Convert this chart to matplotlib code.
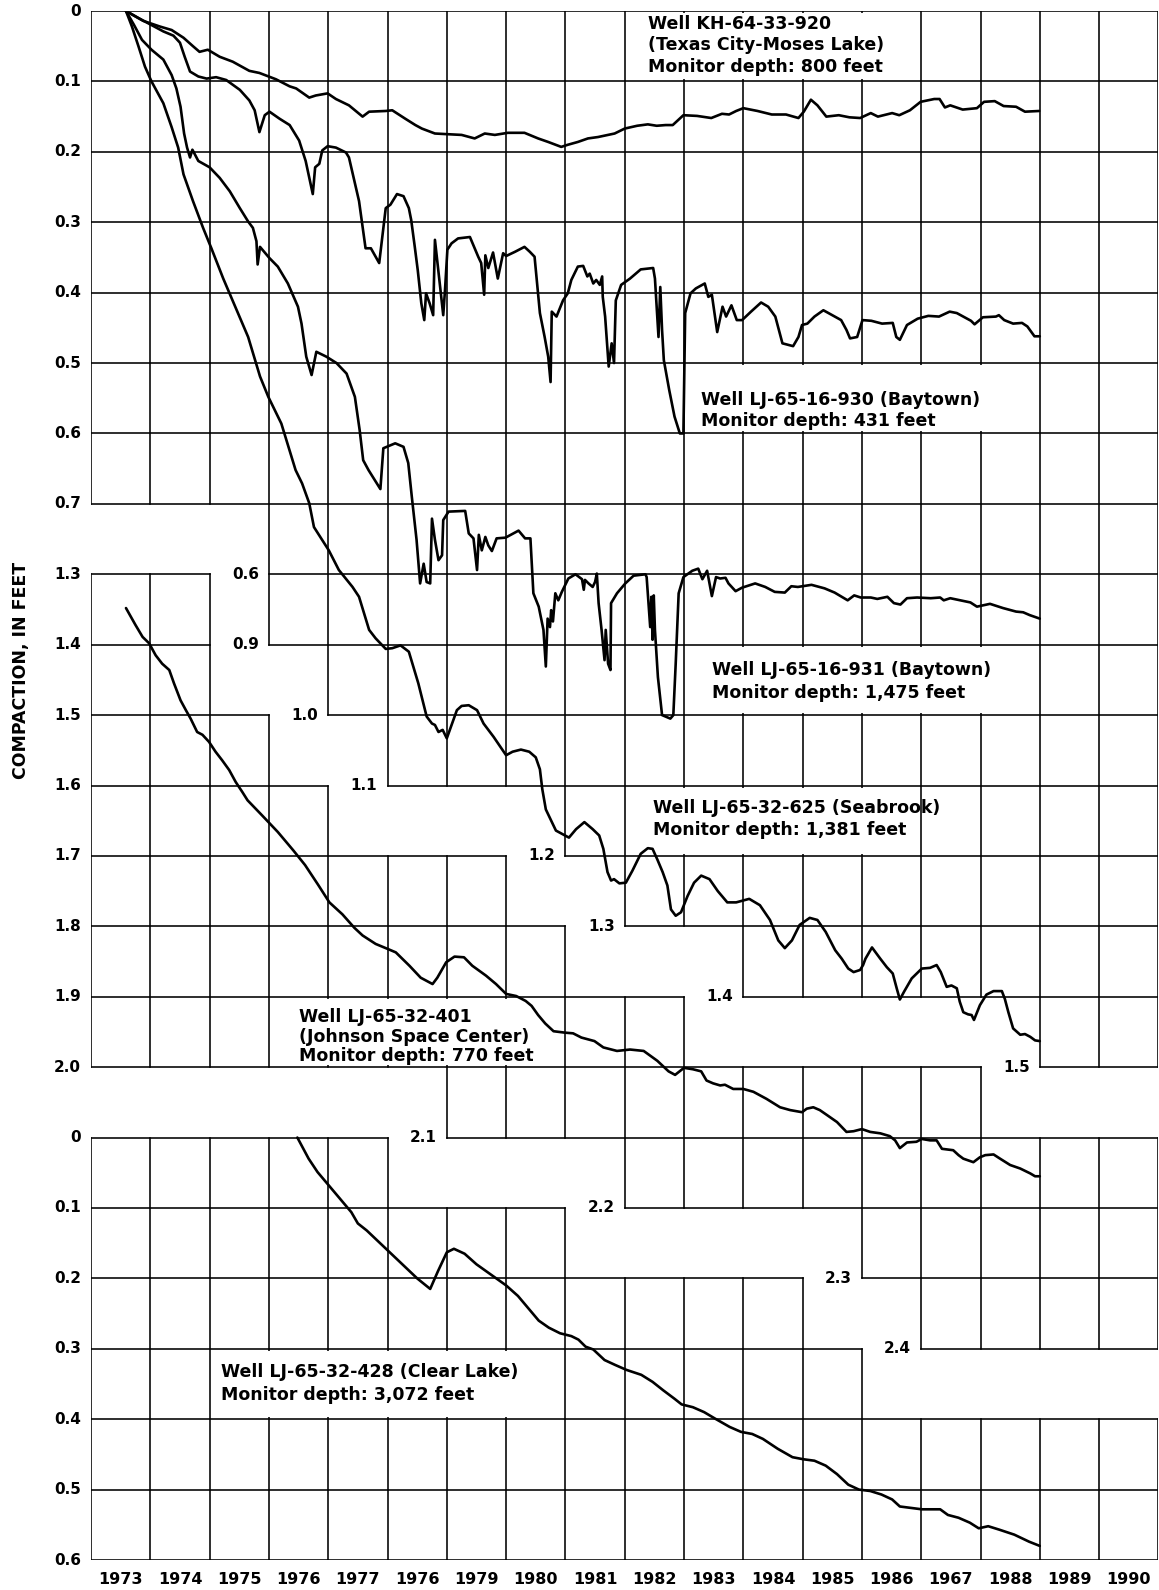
import matplotlib
matplotlib.use("Agg")
import matplotlib.pyplot as plt
from matplotlib.patches import Rectangle

# ---------------- data (years, compaction in feet) ----------------
texas_city = [(1973.59, 0.0), (1973.88, 0.014), (1974.16, 0.022), (1974.36, 0.027), (1974.56, 0.038),
    (1974.72, 0.050), (1974.83, 0.058), (1974.97, 0.055), (1975.17, 0.065), (1975.39, 0.072),
    (1975.67, 0.085), (1975.84, 0.088), (1976.12, 0.097), (1976.35, 0.107), (1976.46, 0.110),
    (1976.68, 0.123), (1976.79, 0.120), (1976.99, 0.117), (1977.13, 0.125), (1977.35, 0.134),
    (1977.58, 0.150), (1977.69, 0.143), (1977.97, 0.142), (1978.08, 0.141), (1978.30, 0.153),
    (1978.47, 0.162), (1978.58, 0.167), (1978.80, 0.174), (1979.02, 0.175), (1979.25, 0.176),
    (1979.47, 0.181), (1979.64, 0.174), (1979.81, 0.176), (1980.03, 0.173), (1980.31, 0.173),
    (1980.54, 0.181), (1980.71, 0.186), (1980.93, 0.193), (1981.04, 0.190), (1981.21, 0.186),
    (1981.38, 0.181), (1981.55, 0.179), (1981.83, 0.174), (1982.00, 0.167), (1982.21, 0.163),
    (1982.39, 0.161), (1982.54, 0.163), (1982.69, 0.162), (1982.81, 0.162), (1982.90, 0.155),
    (1982.99, 0.148), (1983.22, 0.149), (1983.46, 0.152), (1983.64, 0.146), (1983.76, 0.147),
    (1983.88, 0.142), (1984.00, 0.138), (1984.24, 0.142), (1984.48, 0.147), (1984.72, 0.147),
    (1984.93, 0.152), (1985.02, 0.143), (1985.14, 0.126), (1985.25, 0.134), (1985.40, 0.150),
    (1985.61, 0.148), (1985.79, 0.151), (1985.97, 0.152), (1986.15, 0.145), (1986.27, 0.150),
    (1986.51, 0.145), (1986.63, 0.148), (1986.81, 0.141), (1986.99, 0.129), (1987.22, 0.125),
    (1987.31, 0.125), (1987.40, 0.137), (1987.49, 0.134), (1987.70, 0.140), (1987.94, 0.138),
    (1988.06, 0.129), (1988.24, 0.128), (1988.39, 0.135), (1988.60, 0.136), (1988.75, 0.143),
    (1988.99, 0.142)]

baytown_930 = [(1973.59, 0.0), (1973.80, 0.010), (1974.00, 0.019), (1974.22, 0.029), (1974.39, 0.035),
    (1974.50, 0.045), (1974.58, 0.065), (1974.67, 0.086), (1974.81, 0.093), (1974.95, 0.096),
    (1975.11, 0.094), (1975.28, 0.098), (1975.51, 0.112), (1975.67, 0.127), (1975.76, 0.141),
    (1975.84, 0.172), (1975.93, 0.148), (1976.01, 0.143), (1976.18, 0.153), (1976.35, 0.162),
    (1976.51, 0.184), (1976.62, 0.213), (1976.74, 0.260), (1976.78, 0.222), (1976.85, 0.217),
    (1976.90, 0.198), (1976.99, 0.192), (1977.13, 0.194), (1977.30, 0.201), (1977.35, 0.208),
    (1977.52, 0.270), (1977.63, 0.337), (1977.72, 0.337), (1977.86, 0.358), (1977.97, 0.280),
    (1978.05, 0.275), (1978.16, 0.260), (1978.27, 0.263), (1978.36, 0.280), (1978.40, 0.297),
    (1978.46, 0.335), (1978.51, 0.368), (1978.57, 0.415), (1978.62, 0.439), (1978.65, 0.401),
    (1978.71, 0.415), (1978.77, 0.432), (1978.80, 0.325), (1978.85, 0.363), (1978.94, 0.432),
    (1978.97, 0.396), (1979.01, 0.339), (1979.08, 0.330), (1979.19, 0.323), (1979.39, 0.321),
    (1979.41, 0.325), (1979.53, 0.349), (1979.58, 0.358), (1979.63, 0.403), (1979.65, 0.347),
    (1979.70, 0.365), (1979.78, 0.343), (1979.86, 0.380), (1979.95, 0.344), (1980.00, 0.348),
    (1980.15, 0.342), (1980.31, 0.335), (1980.40, 0.342), (1980.48, 0.349), (1980.57, 0.429),
    (1980.65, 0.463), (1980.71, 0.491), (1980.75, 0.527), (1980.77, 0.427), (1980.85, 0.434),
    (1980.96, 0.411), (1981.04, 0.401), (1981.10, 0.382), (1981.21, 0.363), (1981.30, 0.362),
    (1981.37, 0.377), (1981.41, 0.373), (1981.47, 0.387), (1981.52, 0.382), (1981.58, 0.389),
    (1981.62, 0.377), (1981.63, 0.406), (1981.67, 0.434), (1981.73, 0.505), (1981.78, 0.472),
    (1981.82, 0.500), (1981.85, 0.411), (1981.94, 0.389), (1982.09, 0.380), (1982.27, 0.367),
    (1982.48, 0.365), (1982.51, 0.380), (1982.57, 0.463), (1982.60, 0.392), (1982.63, 0.453),
    (1982.66, 0.496), (1982.75, 0.538), (1982.84, 0.576), (1982.93, 0.600), (1982.99, 0.600),
    (1983.02, 0.429), (1983.11, 0.401), (1983.20, 0.394), (1983.35, 0.387), (1983.41, 0.406),
    (1983.47, 0.403), (1983.56, 0.456), (1983.65, 0.420), (1983.71, 0.434), (1983.80, 0.418),
    (1983.89, 0.439), (1983.98, 0.439), (1984.13, 0.427), (1984.30, 0.414), (1984.42, 0.420),
    (1984.54, 0.434), (1984.66, 0.472), (1984.84, 0.476), (1984.93, 0.463), (1984.99, 0.446),
    (1985.08, 0.444), (1985.20, 0.434), (1985.35, 0.425), (1985.50, 0.432), (1985.65, 0.439),
    (1985.74, 0.453), (1985.80, 0.465), (1985.92, 0.463), (1986.01, 0.439), (1986.16, 0.440),
    (1986.34, 0.444), (1986.52, 0.443), (1986.58, 0.463), (1986.64, 0.467), (1986.76, 0.446),
    (1986.94, 0.437), (1987.12, 0.433), (1987.30, 0.434), (1987.48, 0.427), (1987.60, 0.429),
    (1987.84, 0.440), (1987.90, 0.445), (1988.04, 0.435), (1988.26, 0.434), (1988.31, 0.432),
    (1988.40, 0.439), (1988.55, 0.444), (1988.70, 0.443), (1988.79, 0.448), (1988.91, 0.462),
    (1989.00, 0.462)]

baytown_931 = [(1973.59, 0.0), (1973.72, 0.019), (1973.86, 0.041), (1974.02, 0.055), (1974.22, 0.069),
    (1974.36, 0.091), (1974.44, 0.110), (1974.51, 0.136), (1974.57, 0.174), (1974.62, 0.194),
    (1974.67, 0.208), (1974.71, 0.197), (1974.81, 0.213), (1975.00, 0.222), (1975.17, 0.237),
    (1975.34, 0.256), (1975.51, 0.280), (1975.65, 0.299), (1975.73, 0.308), (1975.79, 0.327),
    (1975.81, 0.360), (1975.85, 0.335), (1976.01, 0.351), (1976.15, 0.363), (1976.32, 0.387),
    (1976.49, 0.420), (1976.55, 0.444), (1976.63, 0.491), (1976.72, 0.517), (1976.80, 0.484),
    (1976.97, 0.491), (1977.14, 0.500), (1977.31, 0.515), (1977.45, 0.548), (1977.53, 0.595),
    (1977.59, 0.638), (1977.68, 0.652), (1977.88, 0.679), (1977.93, 0.621), (1978.13, 0.614),
    (1978.27, 0.619), (1978.35, 0.642), (1978.41, 0.690), (1978.49, 0.751), (1978.55, 0.813),
    (1978.61, 0.785), (1978.66, 0.811), (1978.72, 0.813), (1978.75, 0.721), (1978.80, 0.751),
    (1978.86, 0.780), (1978.92, 0.773), (1978.94, 0.723), (1979.03, 0.711), (1979.31, 0.710),
    (1979.37, 0.742), (1979.45, 0.749), (1979.51, 0.794), (1979.54, 0.744), (1979.59, 0.766),
    (1979.65, 0.747), (1979.70, 0.759), (1979.76, 0.767), (1979.84, 0.749), (1979.99, 0.748),
    (1980.21, 0.738), (1980.32, 0.749), (1980.41, 0.749), (1980.46, 0.827), (1980.55, 0.846),
    (1980.63, 0.879), (1980.67, 0.931), (1980.70, 0.863), (1980.74, 0.875), (1980.76, 0.851),
    (1980.79, 0.867), (1980.83, 0.827), (1980.88, 0.837), (1980.94, 0.825), (1981.05, 0.806),
    (1981.17, 0.800), (1981.28, 0.807), (1981.31, 0.822), (1981.33, 0.808), (1981.39, 0.813),
    (1981.46, 0.818), (1981.50, 0.811), (1981.53, 0.799), (1981.56, 0.841), (1981.61, 0.879),
    (1981.66, 0.922), (1981.68, 0.879), (1981.72, 0.927), (1981.76, 0.936), (1981.77, 0.841),
    (1981.87, 0.827), (1982.01, 0.813), (1982.15, 0.802), (1982.35, 0.800), (1982.37, 0.804),
    (1982.43, 0.875), (1982.45, 0.832), (1982.47, 0.893), (1982.49, 0.830), (1982.51, 0.879),
    (1982.56, 0.946), (1982.63, 1.000), (1982.77, 1.005), (1982.82, 1.000), (1982.86, 0.927),
    (1982.91, 0.827), (1982.99, 0.804), (1983.14, 0.795), (1983.24, 0.792), (1983.31, 0.807),
    (1983.39, 0.795), (1983.47, 0.831), (1983.54, 0.804), (1983.61, 0.806), (1983.70, 0.805),
    (1983.75, 0.813), (1983.87, 0.824), (1983.98, 0.819), (1984.20, 0.813), (1984.37, 0.818),
    (1984.53, 0.825), (1984.70, 0.826), (1984.81, 0.817), (1984.92, 0.818), (1985.15, 0.815),
    (1985.37, 0.820), (1985.54, 0.826), (1985.76, 0.837), (1985.87, 0.830), (1985.98, 0.833),
    (1986.15, 0.833), (1986.26, 0.835), (1986.43, 0.832), (1986.54, 0.841), (1986.65, 0.843),
    (1986.76, 0.834), (1986.93, 0.833), (1987.16, 0.834), (1987.32, 0.833), (1987.38, 0.837),
    (1987.49, 0.834), (1987.66, 0.837), (1987.83, 0.840), (1987.94, 0.846), (1988.16, 0.842),
    (1988.38, 0.848), (1988.60, 0.853), (1988.72, 0.854), (1988.83, 0.858), (1989.00, 0.863)]

seabrook = [(1973.59, 0.0), (1973.69, 0.022), (1973.80, 0.050), (1973.91, 0.079), (1974.02, 0.100),
    (1974.22, 0.131), (1974.36, 0.165), (1974.47, 0.194), (1974.56, 0.232), (1974.72, 0.270),
    (1974.89, 0.308), (1975.03, 0.337), (1975.23, 0.380), (1975.65, 0.463), (1975.85, 0.519),
    (1975.99, 0.548), (1976.21, 0.586), (1976.45, 0.652), (1976.56, 0.671), (1976.68, 0.699),
    (1976.76, 0.733), (1977.01, 0.766), (1977.18, 0.794), (1977.41, 0.818), (1977.52, 0.832),
    (1977.69, 0.879), (1977.80, 0.891), (1977.97, 0.906), (1978.08, 0.905), (1978.22, 0.901),
    (1978.36, 0.910), (1978.52, 0.955), (1978.66, 1.002), (1978.75, 1.012), (1978.80, 1.014),
    (1978.86, 1.024), (1978.93, 1.021), (1979.00, 1.033), (1979.17, 0.993), (1979.25, 0.987),
    (1979.37, 0.986), (1979.51, 0.993), (1979.62, 1.012), (1979.79, 1.031), (1980.00, 1.057),
    (1980.11, 1.052), (1980.25, 1.049), (1980.39, 1.052), (1980.50, 1.060), (1980.57, 1.077),
    (1980.61, 1.105), (1980.67, 1.134), (1980.76, 1.150), (1980.84, 1.164), (1980.95, 1.169),
    (1981.06, 1.174), (1981.18, 1.162), (1981.32, 1.152), (1981.46, 1.162), (1981.57, 1.171),
    (1981.64, 1.190), (1981.71, 1.223), (1981.77, 1.235), (1981.82, 1.233), (1981.91, 1.239),
    (1982.02, 1.238), (1982.13, 1.221), (1982.27, 1.197), (1982.39, 1.189), (1982.47, 1.190),
    (1982.55, 1.205), (1982.64, 1.223), (1982.72, 1.242), (1982.78, 1.276), (1982.86, 1.285),
    (1982.95, 1.280), (1983.06, 1.257), (1983.17, 1.238), (1983.29, 1.228), (1983.43, 1.233),
    (1983.57, 1.250), (1983.73, 1.266), (1983.88, 1.266), (1984.10, 1.261), (1984.28, 1.270),
    (1984.45, 1.291), (1984.59, 1.320), (1984.70, 1.331), (1984.82, 1.320), (1984.95, 1.298),
    (1985.12, 1.288), (1985.25, 1.291), (1985.39, 1.308), (1985.55, 1.334), (1985.66, 1.346),
    (1985.77, 1.360), (1985.86, 1.365), (1985.97, 1.362), (1986.02, 1.355), (1986.06, 1.346),
    (1986.17, 1.330), (1986.31, 1.346), (1986.42, 1.358), (1986.52, 1.367), (1986.59, 1.389),
    (1986.64, 1.404), (1986.71, 1.393), (1986.84, 1.374), (1987.01, 1.360), (1987.15, 1.359),
    (1987.26, 1.355), (1987.33, 1.365), (1987.43, 1.386), (1987.51, 1.384), (1987.60, 1.388),
    (1987.65, 1.407), (1987.71, 1.422), (1987.79, 1.425), (1987.85, 1.426), (1987.89, 1.433),
    (1987.99, 1.412), (1988.10, 1.397), (1988.22, 1.392), (1988.36, 1.392), (1988.41, 1.403),
    (1988.47, 1.422), (1988.55, 1.445), (1988.67, 1.454), (1988.75, 1.453), (1988.84, 1.457),
    (1988.92, 1.462), (1989.00, 1.463)]

# Johnson Space Center well, values on its own 1.3-2.4 ft scale
johnson_sc = [(1973.59, 1.348), (1973.67, 1.360), (1973.75, 1.372), (1973.87, 1.389), (1973.98, 1.398),
    (1974.09, 1.415), (1974.20, 1.427), (1974.32, 1.436), (1974.40, 1.455), (1974.51, 1.479),
    (1974.60, 1.493), (1974.68, 1.505), (1974.79, 1.524), (1974.88, 1.528), (1974.99, 1.538),
    (1975.10, 1.552), (1975.21, 1.564), (1975.33, 1.578), (1975.44, 1.595), (1975.55, 1.609),
    (1975.64, 1.621), (1975.88, 1.642), (1976.15, 1.666), (1976.41, 1.692), (1976.61, 1.713),
    (1976.83, 1.741), (1977.02, 1.766), (1977.24, 1.783), (1977.44, 1.802), (1977.58, 1.813),
    (1977.80, 1.825), (1978.00, 1.832), (1978.14, 1.837), (1978.37, 1.856), (1978.56, 1.873),
    (1978.76, 1.882), (1978.84, 1.873), (1978.99, 1.851), (1979.13, 1.843), (1979.29, 1.844),
    (1979.43, 1.856), (1979.66, 1.870), (1979.83, 1.882), (1980.00, 1.896), (1980.17, 1.899),
    (1980.33, 1.906), (1980.43, 1.913), (1980.54, 1.926), (1980.66, 1.938), (1980.80, 1.949),
    (1980.99, 1.951), (1981.13, 1.952), (1981.27, 1.958), (1981.49, 1.963), (1981.64, 1.972),
    (1981.87, 1.977), (1982.09, 1.975), (1982.32, 1.977), (1982.55, 1.991), (1982.74, 2.006),
    (1982.85, 2.011), (1983.00, 2.001), (1983.15, 2.003), (1983.29, 2.006), (1983.38, 2.019),
    (1983.49, 2.023), (1983.61, 2.026), (1983.69, 2.025), (1983.83, 2.031), (1984.00, 2.031),
    (1984.17, 2.035), (1984.39, 2.045), (1984.62, 2.057), (1984.79, 2.061), (1984.99, 2.064),
    (1985.07, 2.059), (1985.18, 2.057), (1985.29, 2.061), (1985.41, 2.068), (1985.58, 2.078),
    (1985.74, 2.092), (1985.86, 2.091), (1986.00, 2.088), (1986.14, 2.092), (1986.31, 2.094),
    (1986.47, 2.098), (1986.56, 2.104), (1986.64, 2.115), (1986.76, 2.107), (1986.92, 2.106),
    (1987.01, 2.102), (1987.15, 2.104), (1987.26, 2.104), (1987.35, 2.116), (1987.54, 2.118),
    (1987.63, 2.125), (1987.71, 2.130), (1987.88, 2.135), (1987.99, 2.128), (1988.08, 2.125),
    (1988.22, 2.124), (1988.33, 2.130), (1988.50, 2.139), (1988.67, 2.144), (1988.84, 2.151),
    (1988.92, 2.155), (1989.00, 2.155)]

# Clear Lake well, values on its own 0-0.6 ft scale
clear_lake = [(1976.48, 0.000), (1976.67, 0.030), (1976.82, 0.049), (1977.01, 0.068), (1977.20, 0.087),
    (1977.39, 0.106), (1977.50, 0.122), (1977.65, 0.132), (1977.80, 0.144), (1978.00, 0.160),
    (1978.25, 0.180), (1978.50, 0.200), (1978.72, 0.215), (1978.85, 0.190), (1979.00, 0.163),
    (1979.12, 0.158), (1979.30, 0.165), (1979.50, 0.180), (1979.75, 0.195), (1980.00, 0.210),
    (1980.20, 0.225), (1980.40, 0.245), (1980.55, 0.260), (1980.72, 0.270), (1980.91, 0.278),
    (1981.10, 0.282), (1981.22, 0.287), (1981.34, 0.297), (1981.47, 0.301), (1981.66, 0.316),
    (1981.84, 0.323), (1982.03, 0.330), (1982.28, 0.337), (1982.47, 0.347), (1982.65, 0.359),
    (1982.84, 0.371), (1982.96, 0.379), (1983.15, 0.383), (1983.34, 0.390), (1983.52, 0.399),
    (1983.77, 0.411), (1983.96, 0.418), (1984.15, 0.421), (1984.33, 0.428), (1984.58, 0.442),
    (1984.83, 0.454), (1985.02, 0.457), (1985.20, 0.459), (1985.39, 0.466), (1985.58, 0.478),
    (1985.77, 0.493), (1985.95, 0.500), (1986.14, 0.502), (1986.33, 0.507), (1986.51, 0.514),
    (1986.64, 0.524), (1987.01, 0.528), (1987.32, 0.528), (1987.45, 0.536), (1987.63, 0.540),
    (1987.82, 0.547), (1987.97, 0.555), (1988.13, 0.552), (1988.32, 0.557), (1988.57, 0.564),
    (1988.82, 0.574), (1989.00, 0.580)]

year_labels = ["1973", "1974", "1975", "1976", "1977", "1976", "1979", "1980", "1981",
               "1982", "1983", "1984", "1985", "1986", "1967", "1988", "1989", "1990"]
left_labels = ["0", "0.1", "0.2", "0.3", "0.4", "0.5", "0.6", "0.7",
               "1.3", "1.4", "1.5", "1.6", "1.7", "1.8", "1.9", "2.0",
               "0", "0.1", "0.2", "0.3", "0.4", "0.5", "0.6"]
# staircase labels: (text, row boundary, column where line starts)
stair_labels = [("0.6", 8, 3), ("0.9", 9, 3), ("1.0", 10, 4), ("1.1", 11, 5), ("1.2", 12, 8),
                ("1.3", 13, 9), ("1.4", 14, 11), ("1.5", 15, 16), ("2.1", 16, 6), ("2.2", 17, 9),
                ("2.3", 18, 13), ("2.4", 19, 14)]

# ---------------- layout ----------------
JSC_SHIFT = -0.5   # JSC scale drawn 0.5 ft higher on the sheet
CL_SHIFT = 1.6     # Clear Lake scale starts 1.6 ft down the sheet
ROW = 0.1
cell_rows = {}
for r in range(7):
    cell_rows[r] = [(0, 17)]
cell_rows.update({7: [(3, 17)], 8: [(0, 1), (3, 17)], 9: [(0, 1), (4, 17)],
                  10: [(0, 2), (5, 17)], 11: [(0, 3), (8, 17)], 12: [(0, 6), (9, 17)],
                  13: [(0, 7), (11, 17)], 14: [(0, 9), (16, 17)], 15: [(6, 14)],
                  16: [(0, 4), (9, 17)], 17: [(0, 7), (13, 17)], 18: [(0, 11), (14, 17)],
                  19: [(0, 12)], 20: [(0, 17)], 21: [(0, 17)]})
NR, NC = 22, 18

FONT = "DejaVu Sans"
fig = plt.figure(figsize=(11.59, 15.90), dpi=100)
ax = fig.add_axes([91 / 1159, 30 / 1590, 1067.4 / 1159, 1549 / 1590])
ax.set_xlim(1973, 1991)
ax.set_ylim(2.2, 0)
ax.set_axis_off()

filled = set()
for r, rr in cell_rows.items():
    for c0, c1 in rr:
        for c in range(c0, c1 + 1):
            filled.add((r, c))


def runs(flags):
    out, start = [], None
    for i, f in enumerate(flags + [False]):
        if f and start is None:
            start = i
        elif not f and start is not None:
            out.append((start, i))
            start = None
    return out


gkw = dict(colors="black", linewidth=1.15, zorder=1, capstyle="projecting")
for k in range(NR + 1):
    flags = [((k - 1, c) in filled) or ((k, c) in filled) for c in range(NC)]
    for a, b in runs(flags):
        ax.hlines(k * ROW, 1973 + a, 1973 + b, **gkw)
for j in range(NC + 1):
    flags = [((r, j - 1) in filled) or ((r, j) in filled) for r in range(NR)]
    for a, b in runs(flags):
        ax.vlines(1973 + j, a * ROW, b * ROW, **gkw)

# white label boxes (hide grid behind text)
boxes = [(1982.03, 0.003, 4.94, 0.094), (1983.03, 0.503, 5.94, 0.094),
         (1983.03, 0.903, 5.94, 0.094), (1982.03, 1.103, 4.94, 0.094),
         (1976.03, 1.403, 4.94, 0.094), (1975.03, 1.903, 5.94, 0.094)]
for x0, y0, w, h in boxes:
    ax.add_patch(Rectangle((x0, y0), w, h, facecolor="white", edgecolor="none", zorder=2))

# curves
ckw = dict(color="black", linewidth=1.9, zorder=4, solid_joinstyle="round", solid_capstyle="round")
for series, shift in [(texas_city, 0.0), (baytown_930, 0.0), (baytown_931, 0.0),
                      (seabrook, 0.0), (johnson_sc, JSC_SHIFT), (clear_lake, CL_SHIFT)]:
    xs = [p[0] for p in series]
    ys = [p[1] + shift for p in series]
    ax.plot(xs, ys, **ckw)

# tick labels
tkw = dict(fontsize=11, fontweight="bold", family=FONT, ha="right", va="center", zorder=5)
dx = 0.17
for i, lab in enumerate(left_labels):
    ax.text(1973 - dx, i * ROW, lab, **tkw)
for lab, k, c in stair_labels:
    ax.text(1973 + c - dx, k * ROW, lab, **tkw)
for i, lab in enumerate(year_labels):
    ax.text(1973.5 + i, 2.2 + 0.027, lab, fontsize=11.5, fontweight="bold", family=FONT,
            ha="center", va="center")

# well annotations
akw = dict(fontsize=12.5, fontweight="bold", family=FONT, ha="left", va="center", zorder=5)
notes = [(1982.39, [0.018, 0.048, 0.079], ["Well KH-64-33-920", "(Texas City-Moses Lake)", "Monitor depth: 800 feet"]),
         (1983.29, [0.553, 0.582], ["Well LJ-65-16-930 (Baytown)", "Monitor depth: 431 feet"]),
         (1983.48, [0.936, 0.969], ["Well LJ-65-16-931 (Baytown)", "Monitor depth: 1,475 feet"]),
         (1982.48, [1.132, 1.163], ["Well LJ-65-32-625 (Seabrook)", "Monitor depth: 1,381 feet"]),
         (1976.51, [1.429, 1.457, 1.484], ["Well LJ-65-32-401", "(Johnson Space Center)", "Monitor depth: 770 feet"]),
         (1975.20, [1.933, 1.966], ["Well LJ-65-32-428 (Clear Lake)", "Monitor depth: 3,072 feet"])]
for x0, ys, lines in notes:
    for y, t in zip(ys, lines):
        ax.text(x0, y, t, **akw)

fig.text(21 / 1159, 1 - 670 / 1590, "COMPACTION, IN FEET", rotation=90, fontsize=12.5,
         fontweight="bold", family=FONT, ha="center", va="center")

fig.savefig("out.png", dpi=100)
